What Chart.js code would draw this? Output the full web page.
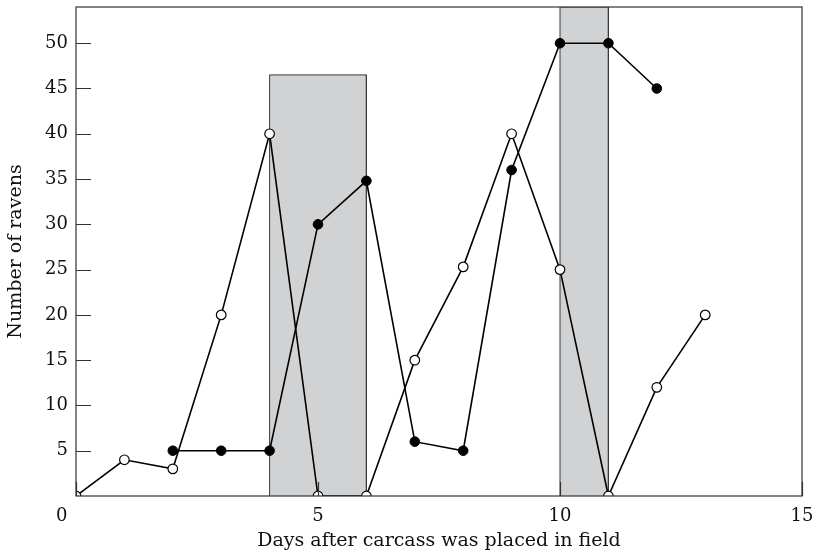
<!DOCTYPE html>
<html>
<head>
<meta charset="utf-8">
<script src="https://cdn.jsdelivr.net/npm/chart.js@4.4.1/dist/chart.umd.min.js"></script>
<style>
  html, body { margin: 0; padding: 0; background: #fff; }
  #wrap { width: 816px; height: 558px; }
</style>
</head>
<body>
<div id="wrap"><canvas id="ravens"></canvas></div>
<script>
// open circles: days 0..13
const openDays = [0, 1, 2, 3, 4, 5, 6, 7, 8, 9, 10, 11, 12, 13];
const openCounts = [0, 4, 3, 20, 40, 0, 0, 15, 25.3, 40, 25, 0, 12, 20];
// filled circles: days 2..12
const filledDays = [2, 3, 4, 5, 6, 7, 8, 9, 10, 11, 12];
const filledCounts = [5, 5, 5, 30, 34.8, 6, 5, 36, 50, 50, 45];
// shaded periods
const shadeStart = [4, 10];
const shadeEnd = [6, 11];
const shadeTop = [46.5, 54];

const xTicks = [0, 5, 10, 15];
const yTicks = [5, 10, 15, 20, 25, 30, 35, 40, 45, 50];

const FONT = "'DejaVu Serif', serif";

function toPoints(xs, ys) {
    return xs.map((x, i) => ({ x: x, y: ys[i] }));
}

// no extra room for overhanging tick labels
function noPad(s) {
    s.paddingTop = 0;
    s.paddingBottom = 0;
    s.paddingLeft = 0;
    s.paddingRight = 0;
}

const shadeSets = shadeStart.map((s, i) => ({
    type: 'line',
    data: [
        { x: s, y: 0 },
        { x: s, y: shadeTop[i] },
        { x: shadeEnd[i], y: shadeTop[i] },
        { x: shadeEnd[i], y: 0 }
    ],
    fill: 'origin',
    backgroundColor: '#d1d2d4',
    borderColor: '#3a3a3a',
    borderWidth: 1,
    pointRadius: 0,
    tension: 0,
    order: 5
}));

// inward tick marks + frame
const framePlugin = {
    id: 'frame',
    afterDatasetsDraw(chart) {
        const { ctx, chartArea: a, scales } = chart;
        ctx.save();
        ctx.strokeStyle = '#333';
        ctx.lineWidth = 1.2;
        ctx.strokeRect(a.left, a.top, a.right - a.left, a.bottom - a.top);
        ctx.beginPath();
        scales.y.ticks.forEach(t => {
            const py = Math.round(scales.y.getPixelForValue(t.value)) + 0.5;
            ctx.moveTo(a.left, py);
            ctx.lineTo(a.left + 15, py);
        });
        scales.x.ticks.forEach(t => {
            const px = Math.round(scales.x.getPixelForValue(t.value)) + 0.5;
            ctx.moveTo(px, a.bottom);
            ctx.lineTo(px, a.bottom - 14);
        });
        ctx.stroke();
        ctx.restore();
    }
};

new Chart(document.getElementById('ravens'), {
    type: 'line',
    data: {
        datasets: [
            ...shadeSets,
            {
                label: 'filled',
                data: toPoints(filledDays, filledCounts),
                borderColor: '#000',
                backgroundColor: '#000',
                borderWidth: 1.6,
                pointRadius: 4.8,
                pointBorderWidth: 1,
                pointBorderColor: '#000',
                pointBackgroundColor: '#000',
                tension: 0,
                fill: false,
                order: 2
            },
            {
                label: 'open',
                data: toPoints(openDays, openCounts),
                borderColor: '#000',
                backgroundColor: '#fff',
                borderWidth: 1.6,
                pointRadius: 4.8,
                pointBorderWidth: 1.2,
                pointBorderColor: '#000',
                pointBackgroundColor: '#fff',
                tension: 0,
                fill: false,
                order: 1
            }
        ]
    },
    options: {
        responsive: true,
        maintainAspectRatio: false,
        animation: false,
        layout: { autoPadding: false, padding: { top: 7, right: 14, left: 0, bottom: 0 } },
        plugins: {
            legend: { display: false },
            tooltip: { enabled: false }
        },
        scales: {
            x: {
                type: 'linear',
                min: 0,
                max: 15,
                afterBuildTicks: s => { s.ticks = xTicks.map(v => ({ value: v })); },
                afterFit: s => { s.height = 62; noPad(s); },
                grid: { display: false, drawTicks: false },
                border: { display: false },
                ticks: {
                    color: '#111',
                    padding: 10,
                    maxRotation: 0,
                    font: { family: FONT, size: 18 },
                    // the origin label sits left of the corner
                    callback: v => (v === 0 ? '0     ' : String(v))
                },
                title: {
                    display: true,
                    text: 'Days after carcass was placed in field',
                    color: '#111',
                    padding: { top: 4, bottom: 6 },
                    font: { family: FONT, size: 19 }
                }
            },
            y: {
                type: 'linear',
                min: 0,
                max: 54,
                afterBuildTicks: s => { s.ticks = yTicks.map(v => ({ value: v })); },
                afterFit: s => { s.width = 76; noPad(s); },
                grid: { display: false, drawTicks: false },
                border: { display: false },
                ticks: {
                    color: '#111',
                    padding: 8,
                    font: { family: FONT, size: 18 }
                },
                title: {
                    display: true,
                    text: 'Number of ravens',
                    color: '#111',
                    padding: { top: 5, bottom: 4 },
                    font: { family: FONT, size: 19 }
                }
            }
        }
    },
    plugins: [framePlugin]
});
</script>
</body>
</html>
